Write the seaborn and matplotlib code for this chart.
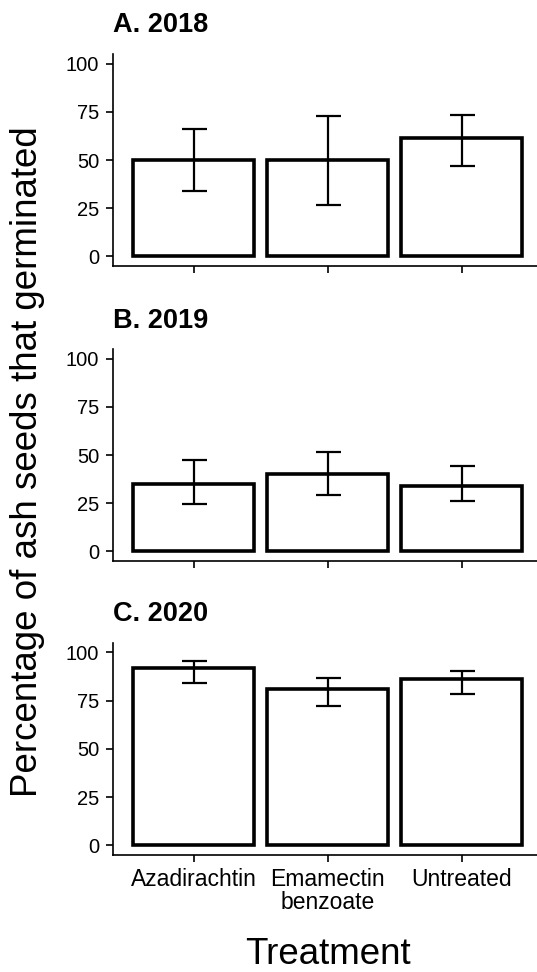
import numpy as np
import pandas as pd
import seaborn as sns
import matplotlib.pyplot as plt

# germination data (mean and interval ends, %)
treatments = ['Azadirachtin', 'Emamectin\nbenzoate', 'Untreated']
panel_titles = ['A. 2018', 'B. 2019', 'C. 2020']

mean_2018 = [50.0, 50.0, 61.3]
low_2018 = [33.9, 26.8, 46.7]
high_2018 = [66.2, 72.7, 73.6]

mean_2019 = [34.8, 40.0, 34.1]
low_2019 = [24.3, 29.3, 25.9]
high_2019 = [47.2, 51.5, 44.3]

mean_2020 = [91.7, 80.9, 86.0]
low_2020 = [84.2, 72.3, 78.5]
high_2020 = [95.7, 86.9, 90.5]

y_ticks = [0, 25, 50, 75, 100]

sns.set_style('ticks')
plt.rcParams['font.family'] = ['Liberation Sans', 'DejaVu Sans']
plt.rcParams['text.color'] = 'black'
plt.rcParams['axes.labelcolor'] = 'black'
plt.rcParams['xtick.color'] = 'black'
plt.rcParams['ytick.color'] = 'black'

W, H = 537, 972
fig = plt.figure(figsize=(W / 100, H / 100), dpi=100)

# panel boxes in pixels: (left, top, bottom)
boxes = [(113, 54, 266), (113, 349.3, 560.7), (113, 642.7, 855)]

panels = [
    (mean_2018, low_2018, high_2018),
    (mean_2019, low_2019, high_2019),
    (mean_2020, low_2020, high_2020),
]

for i, ((left, top, bottom), (m, lo, hi)) in enumerate(zip(boxes, panels)):
    ax = fig.add_axes([left / W, 1 - bottom / H, (W - left) / W, (bottom - top) / H])
    df = pd.DataFrame({'treatment': treatments, 'pct': m})
    sns.barplot(data=df, x='treatment', y='pct', color='white', saturation=1,
                edgecolor='black', linewidth=2.6, width=0.9, errorbar=None, ax=ax)
    m = np.array(m)
    yerr = [m - np.array(lo), np.array(hi) - m]
    ax.errorbar(np.arange(len(treatments)), m, yerr=yerr, fmt='none',
                ecolor='black', elinewidth=1.6, capsize=9, capthick=1.6, zorder=5)
    ax.set_ylim(-5, 105)
    ax.set_xlim(-0.6, 2.56)
    ax.set_yticks(y_ticks)
    ax.set_xlabel('')
    ax.set_ylabel('')
    sns.despine(ax=ax)
    for s in ['left', 'bottom']:
        ax.spines[s].set_linewidth(1.2)
        ax.spines[s].set_color('black')
    ax.tick_params(axis='y', length=5, width=1.2, pad=5, labelsize=14.5, colors='black')
    ax.tick_params(axis='x', length=5, width=1.2, pad=4, labelsize=16.5, colors='black')
    if i < 2:
        ax.tick_params(axis='x', labelbottom=False)
    else:
        for lab in ax.get_xticklabels():
            lab.set_linespacing(1.0)
    ax.set_title(panel_titles[i], loc='left', fontsize=19.5, fontweight='bold',
                 color='black', pad=15.5)

fig.text(27.5 / W, 1 - 461.5 / H, 'Percentage of ash seeds that germinated',
         rotation=90, ha='center', va='center', fontsize=26.5, color='black')
fig.text(328 / W, 1 - 964 / H, 'Treatment', ha='center', va='baseline',
         fontsize=26.5, color='black')

fig.savefig('out.png', dpi=100)
